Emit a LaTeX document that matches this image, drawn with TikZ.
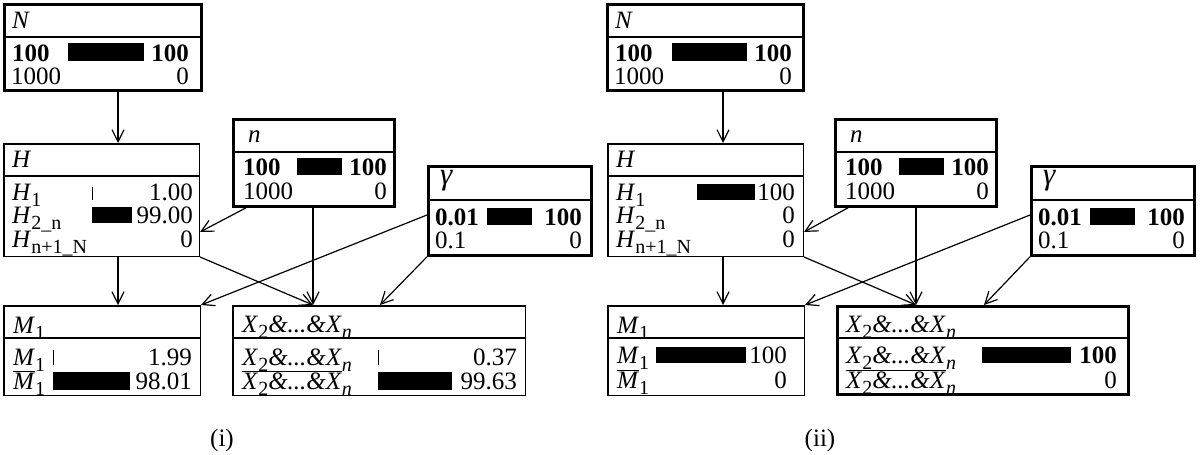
\documentclass[tikz,border=0pt]{standalone}
\usepackage{fontspec}
\setmainfont{Liberation Serif}
\usetikzlibrary{arrows.meta,calc}
\newcommand\sbs[1]{\raisebox{-6pt}{\fontsize{20}{20}\selectfont #1}}
\newcommand\ovl[1]{$\overline{\hbox{#1}}$}
\newcommand\gam{{\fontsize{31}{31}\selectfont\textit{γ}}}
\newcommand\Xs{\textit{X}\sbs{2}\textit{\&...\&X}\sbs{\textit{n}}}
\newcommand\Xo{\ovl{\textit{X}\sbs{2}\textit{\&...\&X}}\sbs{\textit{n}}}
% name, x, y (outer north west), width, height, separator offset, style
\newcommand\mkbox[7]{%
  \node[#7, minimum width=#4pt, minimum height=#5pt, anchor=north west] (#1) at (#2,#3) {};
  \draw[sepline] ($(#1.north west)+(0,#6)$) -- ($(#1.north east)+(0,#6)$);}
\newcommand\txl[4]{\node[txt,anchor=base west] (#1) at (#2,#3) {#4};}
\newcommand\txr[4]{\node[txt,anchor=base east] (#1) at (#2,#3) {#4};}
\newcommand\pbar[4]{\fill (#1,#2) rectangle (#3,#4);}
\tikzset{
  txt/.style={inner sep=0pt, font=\fontsize{25}{28}\selectfont},
  thinbox/.style={draw, line width=1.5pt, inner sep=0pt},
  thickbox/.style={draw, line width=2.8pt, inner sep=0pt},
  sepline/.style={line width=1.5pt},
  conn/.style={line width=1.2pt, -{Straight Barb[length=12pt,width=12pt]}}
}
\begin{document}
\begin{tikzpicture}[x=1pt,y=-1pt]
\useasboundingbox[fill=white] (0,0) rectangle (1200,455);
% ================= left diagram (i) =================
\mkbox{N}{3}{3}{197}{86}{34}{thickbox}
\mkbox{H}{3}{143}{195.5}{112.5}{33}{thinbox}
\mkbox{n}{232}{118}{161}{87}{34}{thickbox}
\mkbox{g}{427}{165}{163}{89}{35}{thickbox}
\mkbox{M}{3}{305}{196.5}{89.5}{33}{thinbox}
\mkbox{X}{232}{305}{292.5}{89.5}{33}{thinbox}
% N
\txl{Nt}{12}{28}{\textit{N}}
\txl{Na}{12}{61}{\textbf{100}}
\pbar{68}{43}{144}{61}
\txr{Nav}{189}{61}{\textbf{100}}
\txl{Nb}{11}{84.5}{1000}
\txr{Nbv}{189}{84.5}{0}
% H
\txl{Ht}{12}{167}{\textit{H}}
\txl{Ha}{12}{200}{\textit{H}\sbs{1}}
\pbar{91.5}{187}{93}{200}
\txr{Hav}{193}{200}{1.00}
\txl{Hb}{12}{223}{\textit{H}\sbs{2\_n}}
\pbar{92}{207}{132}{223}
\txr{Hbv}{193}{223}{99.00}
\txl{Hc}{12}{247}{\textit{H}\sbs{n+1\_N}}
\txr{Hcv}{193}{247}{0}
% n
\txl{nt}{248}{142}{\textit{n}}
\txl{na}{243}{175}{\textbf{100}}
\pbar{297}{158}{342}{175}
\txr{nav}{387}{175}{\textbf{100}}
\txl{nb}{243}{199}{1000}
\txr{nbv}{387}{199}{0}
% gamma
\txl{gt}{440}{184}{\gam}
\txl{ga}{435}{225}{\textbf{0.01}}
\pbar{487}{208}{532}{225}
\txr{gav}{582}{225}{\textbf{100}}
\txl{gb}{435}{248}{0.1}
\txr{gbv}{582}{248}{0}
% M
\txl{Mt}{13}{333}{\textit{M}\sbs{1}}
\txl{Ma}{13}{365}{\textit{M}\sbs{1}}
\pbar{52.5}{350}{54}{365}
\txr{Mav}{192}{365}{1.99}
\txl{Mb}{13}{389}{\ovl{\textit{M}}\sbs{1}}
\pbar{53}{372}{130}{390}
\txr{Mbv}{192}{389}{98.01}
% X
\txl{Xt}{242}{332}{\Xs}
\txl{Xa}{242}{365}{\Xs}
\pbar{377.5}{350}{379}{365}
\txr{Xav}{517}{365}{0.37}
\txl{Xb}{242}{389}{\Xo}
\pbar{378}{372}{452}{390}
\txr{Xbv}{517}{389}{99.63}
% connectors
\coordinate (ax) at (118,0);
\coordinate (nx) at (313,0);
\coordinate (gx) at (380,0);
\draw[conn] (N.south -| ax) -- (H.north -| ax);
\draw[conn] ($(n.south west)+(14,0)$) -- ($(H.north east)+(0,89)$);
\draw[conn] (n.south -| nx) -- (X.north -| nx);
\draw[conn] (H.south east) -- (X.north -| nx);
\draw[conn] (H.south -| ax) -- (M.north -| ax);
\draw[conn] ($(g.north west)+(0,50)$) -- (M.north east);
\draw[conn] (g.south west) -- (X.north -| gx);
\node[txt,anchor=base] (Li) at (222,446) {(i)};
% ================= right diagram (ii) =================
\mkbox{N2}{606}{3}{196}{86}{34}{thickbox}
\mkbox{H2}{607}{143}{195.5}{112.5}{33}{thinbox}
\mkbox{n2}{834}{118}{161}{87}{34}{thickbox}
\mkbox{g2}{1030}{165}{163}{89}{35}{thickbox}
\mkbox{M2}{607}{305}{196.5}{89.5}{33}{thinbox}
\mkbox{X2}{836}{305}{291}{88}{33}{thickbox}
% N
\txl{N2t}{615}{28}{\textit{N}}
\txl{N2a}{615}{61}{\textbf{100}}
\pbar{672}{43}{747}{61}
\txr{N2av}{792}{61}{\textbf{100}}
\txl{N2b}{614}{84.5}{1000}
\txr{N2bv}{792}{84.5}{0}
% H
\txl{H2t}{616}{167}{\textit{H}}
\txl{H2a}{616}{200}{\textit{H}\sbs{1}}
\pbar{697}{184}{755}{200}
\txr{H2av}{795}{200}{100}
\txl{H2b}{616}{223}{\textit{H}\sbs{2\_n}}
\txr{H2bv}{795}{223}{0}
\txl{H2c}{616}{247}{\textit{H}\sbs{n+1\_N}}
\txr{H2cv}{795}{247}{0}
% n
\txl{n2t}{850}{142}{\textit{n}}
\txl{n2a}{845}{175}{\textbf{100}}
\pbar{899}{158}{944}{175}
\txr{n2av}{989}{175}{\textbf{100}}
\txl{n2b}{845}{199}{1000}
\txr{n2bv}{989}{199}{0}
% gamma
\txl{g2t}{1043}{184}{\gam}
\txl{g2a}{1038}{225}{\textbf{0.01}}
\pbar{1090}{208}{1135}{225}
\txr{g2av}{1185}{225}{\textbf{100}}
\txl{g2b}{1038}{248}{0.1}
\txr{g2bv}{1185}{248}{0}
% M
\txl{M2t}{617}{333}{\textit{M}\sbs{1}}
\txl{M2a}{617}{363}{\textit{M}\sbs{1}}
\pbar{656}{347}{746}{363}
\txr{M2av}{787}{363}{100}
\txl{M2b}{617}{388}{\ovl{\textit{M}}\sbs{1}}
\txr{M2bv}{787}{388}{0}
% X
\txl{X2t}{846}{332}{\Xs}
\txl{X2a}{846}{363}{\Xs}
\pbar{982}{347}{1071}{363}
\txr{X2av}{1117}{363}{\textbf{100}}
\txl{X2b}{846}{388}{\Xo}
\txr{X2bv}{1117}{388}{0}
% connectors
\coordinate (ax2) at (723,0);
\coordinate (nx2) at (916,0);
\coordinate (gx2) at (984,0);
\draw[conn] (N2.south -| ax2) -- (H2.north -| ax2);
\draw[conn] ($(n2.south west)+(14,0)$) -- ($(H2.north east)+(0,89)$);
\draw[conn] (n2.south -| nx2) -- (X2.north -| nx2);
\draw[conn] (H2.south east) -- (X2.north -| nx2);
\draw[conn] (H2.south -| ax2) -- (M2.north -| ax2);
\draw[conn] ($(g2.north west)+(0,50)$) -- (M2.north east);
\draw[conn] (g2.south west) -- (X2.north -| gx2);
\node[txt,anchor=base] (Lii) at (820,446) {(ii)};
\end{tikzpicture}
\end{document}
